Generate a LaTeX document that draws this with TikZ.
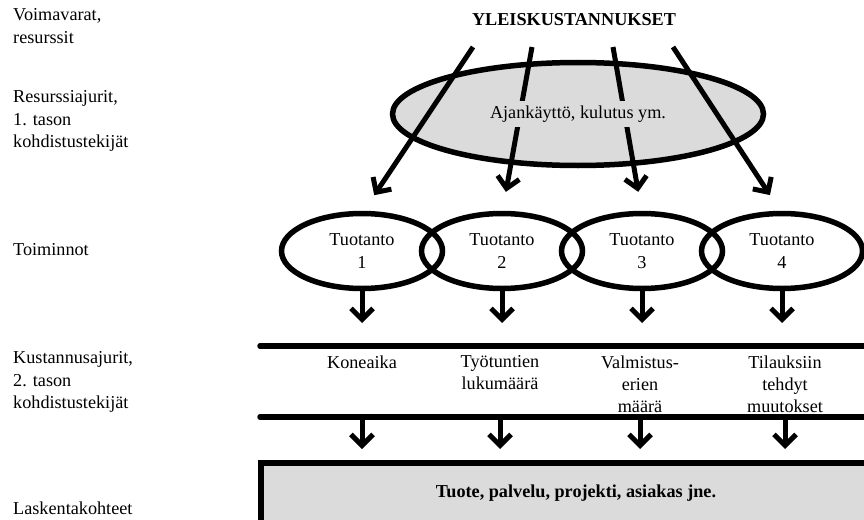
\documentclass[tikz,border=0pt]{standalone}
\usepackage{fontspec}
\setmainfont{Liberation Serif}
\usetikzlibrary{shapes.geometric,arrows.meta}
\definecolor{lightfill}{gray}{0.86}

\begin{document}
\begin{tikzpicture}[x=1pt,y=-1pt,
        font=\fontsize{18.2}{22.5}\selectfont,
        arr/.style={line width=5pt,-{Straight Barb[length=11pt,width=22pt]}},
        act/.style={ellipse,draw,line width=5.5pt,minimum width=161pt,minimum height=75pt,align=center,inner sep=0pt,outer sep=0pt},
        drv/.style={anchor=north,align=center,inner sep=0pt,font=\fontsize{18.2}{22}\selectfont},
        lbl/.style={anchor=north west,align=left,inner sep=0pt}]
    \useasboundingbox (0,0) rectangle (864,519);
    % levels on the left
    \begin{scope}[every node/.style={lbl}]
        \node (L1) at (13,8.6) {Voimavarat,\\resurssit};
        \node (L2) at (13,90.6) {Resurssiajurit,\\1. tason\\kohdistustekijät};
        \node (L3) at (13,243.6) {Toiminnot};
        \node (L4) at (13,351.6) {Kustannusajurit,\\2. tason\\kohdistustekijät};
        \node (L5) at (13,501.6) {Laskentakohteet};
    \end{scope}
    % overheads and resources
    \node[font=\fontsize{18.2}{22.5}\selectfont\bfseries] (ovh) at (574,20) {YLEISKUSTANNUKSET};
    \node[ellipse,draw,line width=5.5pt,fill=lightfill,minimum width=371pt,minimum height=103pt,inner sep=0pt,outer sep=0pt] (res) at (578,114) {};
    \coordinate (s1) at (473,47);
    \coordinate (s2) at (532,47);
    \coordinate (s3) at (613,47);
    \coordinate (s4) at (673,47);
    % activities
    \node[act] (act1) at (362,251) {Tuotanto\\1};
    \node[act] (act2) at (502,251) {Tuotanto\\2};
    \node[act] (act3) at (642,251) {Tuotanto\\3};
    \node[act] (act4) at (782,251) {Tuotanto\\4};
    \begin{scope}[arr,shorten >=22pt]
        \draw (s1) -- (act1.north);
        \draw (s2) -- (act2.north);
        \draw (s3) -- (act3.north);
        \draw (s4) -- (act4.north);
    \end{scope}
    \node[fill=lightfill,inner xsep=2pt,inner ysep=5pt] (resTxt) at (res) {Ajankäyttö, kulutus ym.};
    % cost drivers
    \coordinate (l1) at (260,346);
    \coordinate (l1e) at (880,346);
    \coordinate (l2) at (260,417);
    \coordinate (l2e) at (880,417);
    \draw[line width=5.5pt,line cap=round] (l1) -- (l1e);
    \draw[line width=5.5pt,line cap=round] (l2) -- (l2e);
    \node[drv] (drv1) at (362,355.5) {Koneaika};
    \node[drv] (drv2) at (500,355.5) {Työtuntien\\lukumäärä};
    \node[drv] (drv3) at (640,355.5) {Valmistus-\\erien\\määrä};
    \node[drv] (drv4) at (785,355.5) {Tilauksiin\\tehdyt\\muutokset};
    \begin{scope}[arr,shorten >=23pt]
        \draw (act1.south) -- (act1 |- l1);
        \draw (act2.south) -- (act2 |- l1);
        \draw (act3.south) -- (act3 |- l1);
        \draw (act4.south) -- (act4 |- l1);
    \end{scope}
    % cost objects
    \node[draw,line width=6pt,fill=lightfill,minimum width=630pt,minimum height=60pt,anchor=north,inner sep=0pt,outer sep=0pt,font=\fontsize{18.2}{22.5}\selectfont\bfseries] (obj) at (576,463) {Tuote, palvelu, projekti, asiakas jne.};
    \begin{scope}[arr,shorten >=14pt]
        \draw (drv1 |- l2) -- (drv1 |- obj.north);
        \draw (drv2 |- l2) -- (drv2 |- obj.north);
        \draw (drv3 |- l2) -- (drv3 |- obj.north);
        \draw (drv4 |- l2) -- (drv4 |- obj.north);
    \end{scope}
\end{tikzpicture}
\end{document}
